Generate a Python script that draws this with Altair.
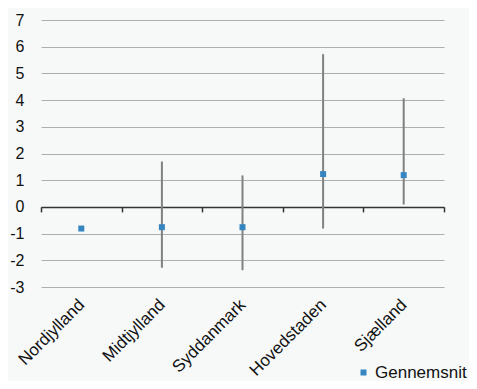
import altair as alt
import pandas as pd

regions = ["Nordjylland", "Midtjylland", "Syddanmark", "Hovedstaden", "Sjælland"]
mean = [-0.81, -0.76, -0.76, 1.23, 1.19]
low = [None, -2.28, -2.37, -0.81, 0.09]
high = [None, 1.70, 1.18, 5.72, 4.07]
series = "Gennemsnit"
y_ticks = [-3, -2, -1, 0, 1, 2, 3, 4, 5, 6, 7]

df = pd.DataFrame({"region": regions, "mean": mean, "low": low, "high": high, "series": series})

W, H = 403, 267
FONT = "Liberation Sans"

x_axis = alt.Axis(
    title=None,
    offset=-H * 0.3,
    tickBand="extent",
    domainColor="#333333",
    domainWidth=1.5,
    tickColor="#333333",
    tickWidth=1.5,
    tickSize=5,
    labelAngle=-45,
    labelAlign="right",
    labelBaseline="middle",
    labelPadding=90,
    labelFontSize=17,
    labelFont=FONT,
    labelColor="#111111",
    labelOverlap=False,
)
x_scale = alt.Scale(paddingInner=0, paddingOuter=0)

y_axis = alt.Axis(
    title=None, values=y_ticks, grid=True, gridColor="#aeaeae", gridWidth=1,
    domain=False, ticks=False, labelPadding=17, labelFontSize=16,
    labelFont=FONT, labelColor="#111111", labelOverlap=False,
    labelExpr="'' + datum.value",
)
y_scale = alt.Scale(domain=[-3, 7], nice=False, zero=False)

bars = alt.Chart(df).transform_filter("isValid(datum.low)").mark_rule(
    color="#808080", strokeWidth=2
).encode(
    x=alt.X("region:N", sort=regions, scale=x_scale, axis=x_axis),
    y=alt.Y("low:Q", scale=y_scale, axis=y_axis),
    y2="high:Q",
)

points = alt.Chart(df).mark_square(size=36, opacity=1).encode(
    x=alt.X("region:N", sort=regions, scale=x_scale, axis=x_axis),
    y=alt.Y("mean:Q", scale=y_scale, axis=y_axis),
    color=alt.Color(
        "series:N",
        scale=alt.Scale(range=["#3585c0"]),
        legend=alt.Legend(
            title=None, orient="none", legendX=314, legendY=344,
            symbolType="square", symbolSize=36, symbolStrokeWidth=0,
            labelOffset=3,
            labelFontSize=17, labelFont=FONT, labelColor="#111111",
        ),
    ),
)

chart = alt.layer(bars, points).properties(
    width=W, height=H,
    autosize=alt.AutoSizeParams(type="none"),
    padding={"left": 33, "top": 12, "right": 25, "bottom": 94},
    background="#f7f9f9",
).configure_view(stroke=None)

chart.save("out.html", embed_options={"renderer": "svg", "actions": False})
